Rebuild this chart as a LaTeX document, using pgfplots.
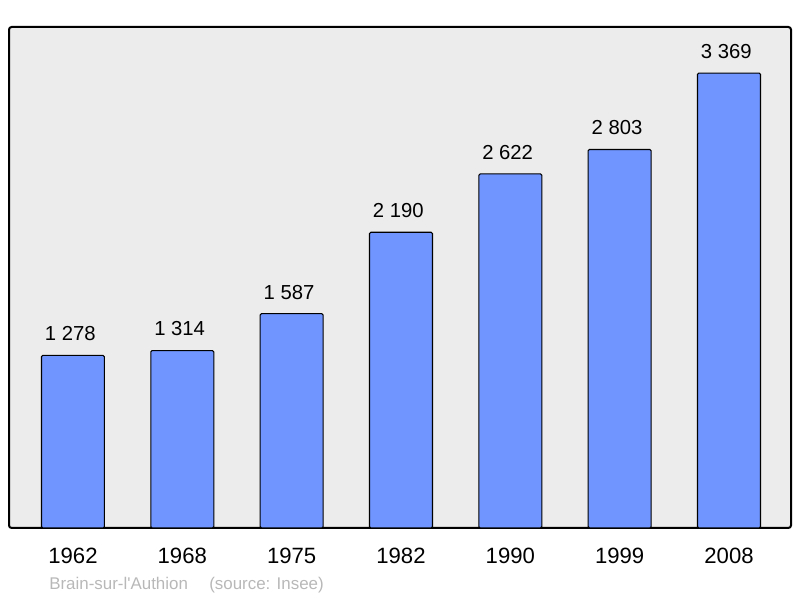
\documentclass[border=0pt]{standalone}
\usepackage{pgfplots}
\pgfplotsset{compat=1.18}
\usepackage{fontspec}
\setmainfont{Liberation Sans}
\definecolor{bg}{HTML}{ECECEC}
\definecolor{barblue}{HTML}{7095FF}
\definecolor{srcgray}{HTML}{B8B8B8}
\begin{document}
\begin{tikzpicture}[x=1pt,y=1pt]
\path[use as bounding box] (0,0) rectangle (600,448.5);
\begin{axis}[
  at={(6.75pt,52.5pt)}, anchor=south west,
  scale only axis, width=586.5pt, height=375.75pt,
  xmin=-0.585, xmax=6.567, ymin=0, ymax=3710,
  axis background/.style={fill=bg},
  axis line style={line width=1.5pt, rounded corners=2pt},
  xtick=data,
  xticklabels={1962,1968,1975,1982,1990,1999,2008},
  xtick style={draw=none},
  ytick=\empty,
  xticklabel style={font=\fontsize{16.6}{18}\selectfont, anchor=base, yshift=-27pt},
  /pgf/number format/assume math mode=true,
  nodes near coords,
  point meta=explicit symbolic,
  nodes near coords style={font=\fontsize{15.2}{17}\selectfont, anchor=base, yshift=11pt, xshift=-2pt, inner sep=0pt},
]
\addplot[ybar, bar width=0.576, fill=barblue, draw=black, line width=0.8pt, rounded corners=1pt]
  table[meta=lab, col sep=comma] {
x,y,lab
0,1278,1 278
1,1314,1 314
2,1587,1 587
3,2190,2 190
4,2622,2 622
5,2803,2 803
6,3369,3 369
};
\end{axis}
\node[anchor=base west, inner sep=0pt, text=srcgray, font=\fontsize{12.7}{14}\selectfont] at (36.75,6) {Brain-sur-l\textquotesingle Authion};
\node[anchor=base west, inner sep=0pt, text=srcgray, font=\fontsize{12.7}{14}\selectfont] at (156.75,6) {(source: Insee)};
\end{tikzpicture}
\end{document}
